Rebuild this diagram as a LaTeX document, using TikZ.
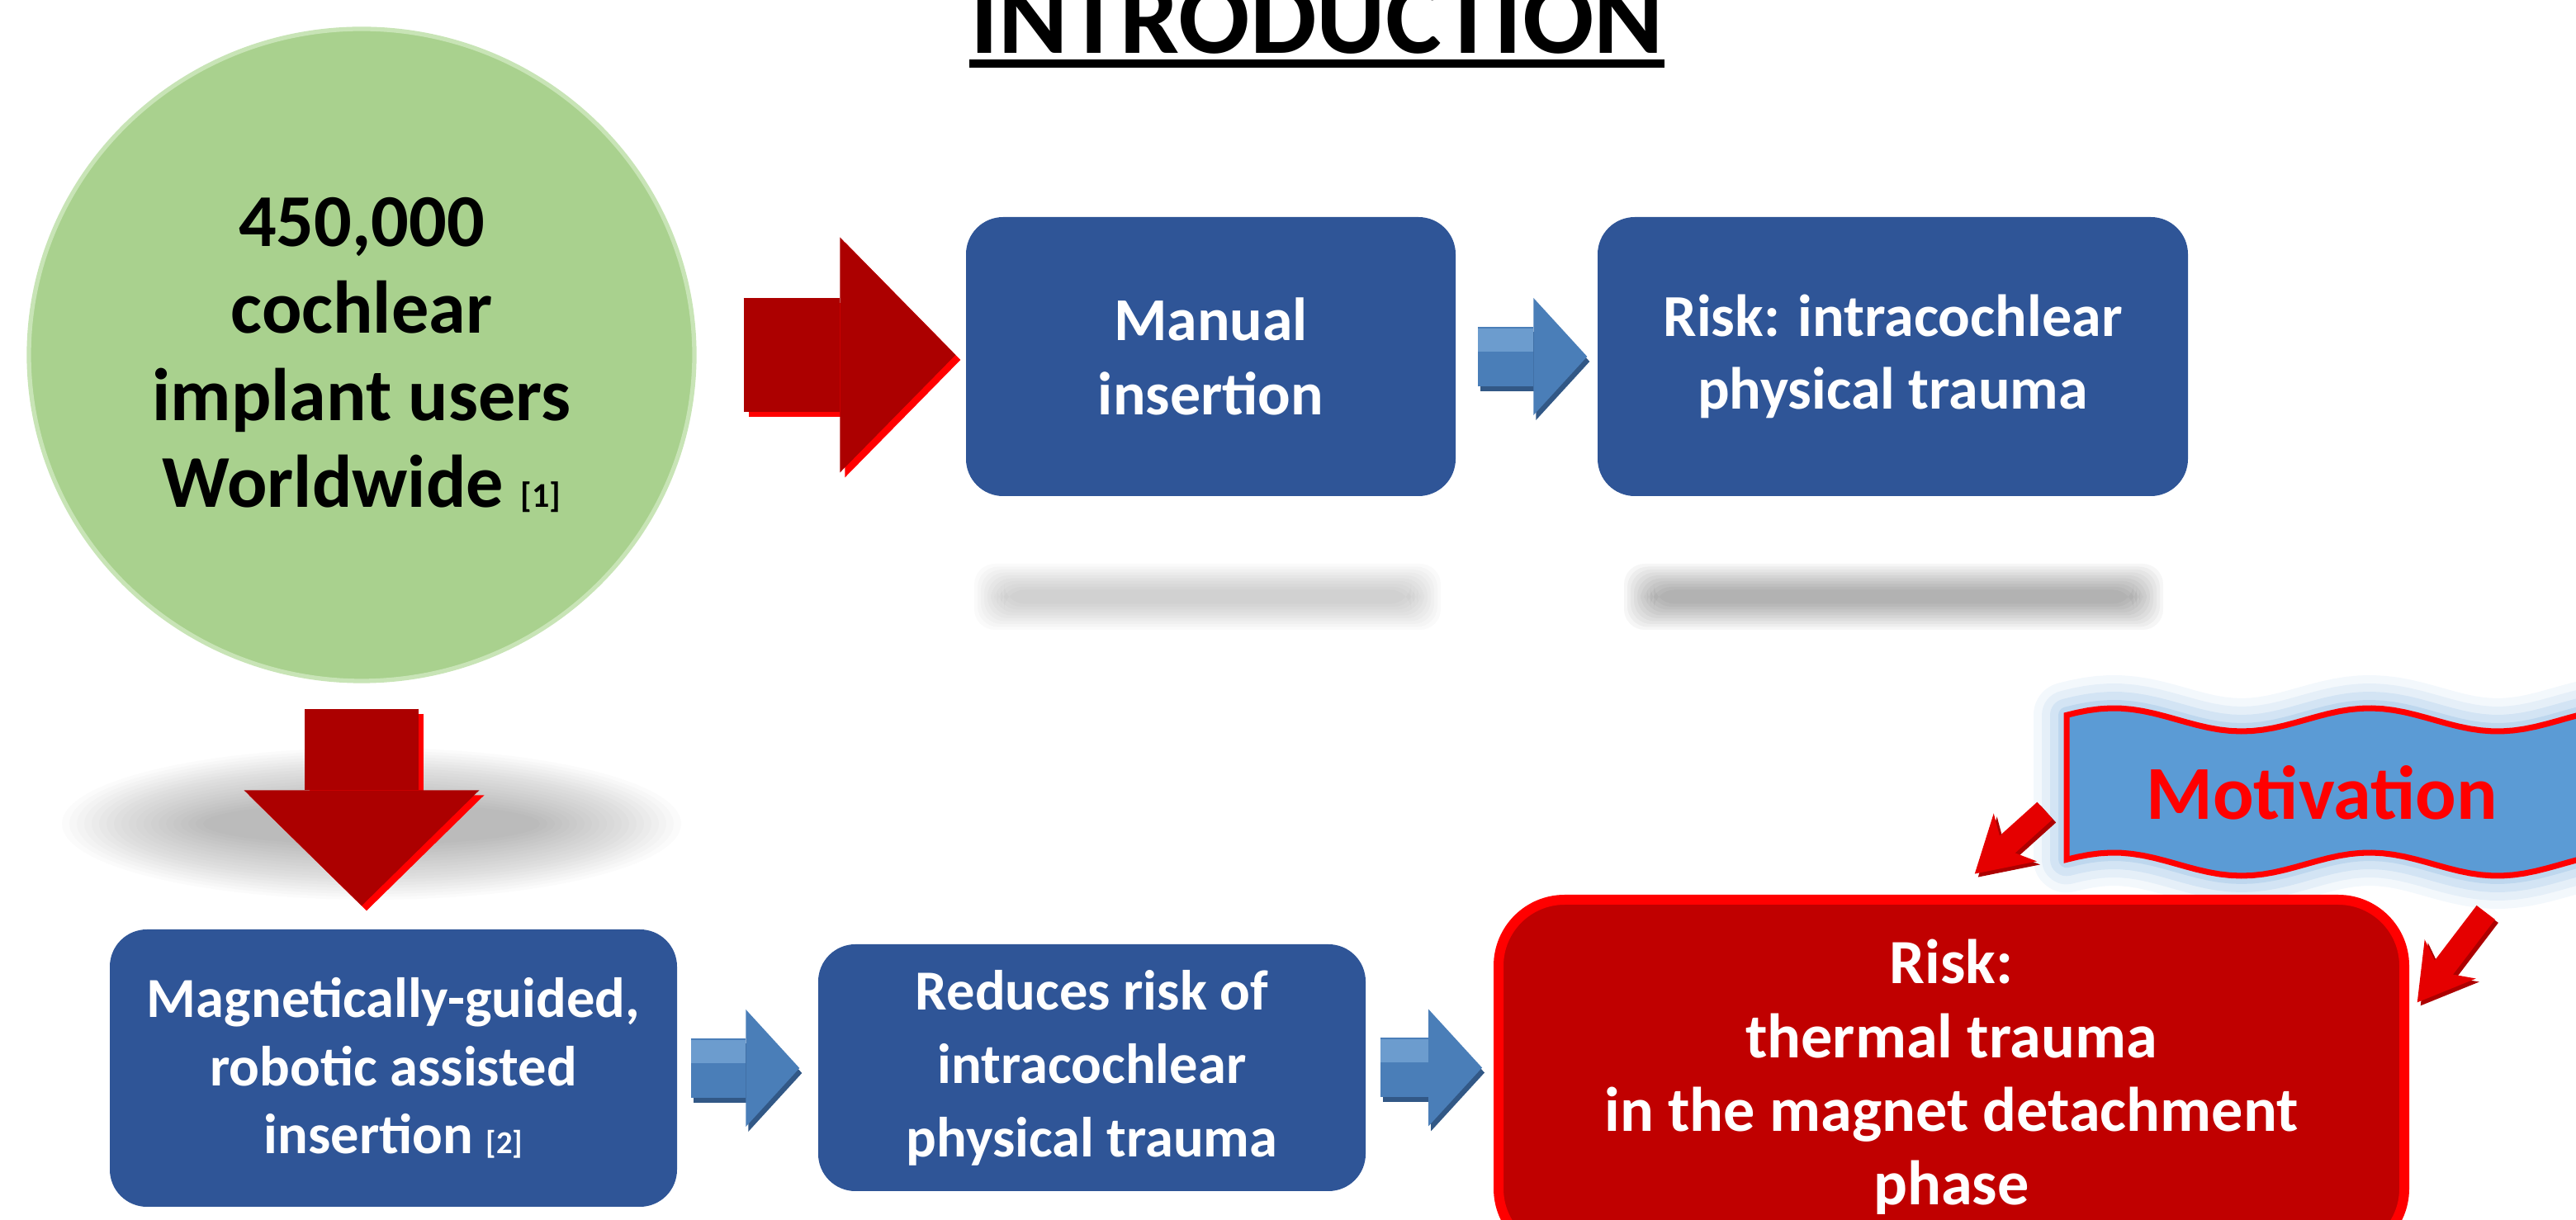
\documentclass[tikz,border=0pt]{standalone}
\usepackage{fontspec}
\setmainfont{Carlito}
\usetikzlibrary{shapes.geometric,arrows.meta}
\definecolor{boxblue}{RGB}{47,85,151}
\definecolor{arrblue}{RGB}{74,126,184}
\definecolor{arrlight}{RGB}{108,156,206}
\definecolor{arrshade}{RGB}{50,88,134}
\definecolor{ellgreen}{RGB}{169,209,142}
\definecolor{ellrim}{RGB}{200,228,182}
\definecolor{darkred}{RGB}{172,0,0}
\definecolor{boxred}{RGB}{192,0,0}
\definecolor{banblue}{RGB}{91,155,213}
\definecolor{glowblue}{RGB}{157,195,230}

\begin{document}
\begin{tikzpicture}
  [bluebox/.style={rectangle,rounded corners=0.45cm,fill=boxblue,text=white,align=center,inner sep=0pt,
     font=\bfseries\fontsize{21}{25.5}\selectfont},
   bigarrow/.style={line width=1.38cm,-{Triangle[length=1.4cm,width=2.85cm,line width=0pt]}},
   smallarrow/.style={line width=0.72cm,-{Triangle[length=0.65cm,width=1.42cm,line width=0pt]}},
   hintarrow/.style={line width=0.28cm,-{Stealth[length=0.66cm,width=0.78cm,inset=0.2cm,line width=0pt]}}]
  \useasboundingbox (0,0) rectangle (31.2,14.78);
  \clip (0,0) rectangle (31.2,14.78);

  % soft shadows
  \foreach \i in {0,...,19}
    \fill[black,opacity=0.016] (4.5,4.8) ellipse ({3.75-0.09*\i} and {0.92-0.035*\i});
  \foreach \xa/\xb/\op in {11.8/17.45/0.02,19.67/26.2/0.035}
    \foreach \i in {0,...,9}
      \fill[black,opacity=\op,rounded corners=0.25cm] (\xa+0.04*\i,7.15+0.035*\i) rectangle (\xb-0.04*\i,7.95-0.035*\i);

  % banner
  \foreach \w/\op in {0.8/0.12,0.6/0.16,0.4/0.25,0.2/0.4}
    \draw[glowblue,line width=\w cm,opacity=\op,line join=round]
      plot[domain=25.03:31.5,samples=50] (\x,{6.06+0.14*sin(360*(\x-24.825)/3.1)})
      -- plot[domain=31.5:25.03,samples=50] (\x,{4.31+0.14*sin(360*(\x-24.825)/3.1)}) -- cycle;
  \filldraw[fill=banblue,draw=red,line width=2pt]
      plot[domain=25.03:31.5,samples=50] (\x,{6.06+0.14*sin(360*(\x-24.825)/3.1)})
      -- plot[domain=31.5:25.03,samples=50] (\x,{4.31+0.14*sin(360*(\x-24.825)/3.1)}) -- cycle;

  \node[font=\bfseries\fontsize{36.4}{36}\selectfont,inner sep=0pt,anchor=base] (title) at (15.95,14.13) {INTRODUCTION};
  \draw[line width=0.1cm] ([yshift=-0.12cm]title.base west) -- ([yshift=-0.12cm]title.base east);

  \node[ellipse,fill=ellgreen,draw=ellrim,line width=1.5pt,minimum width=8.06cm,minimum height=7.9cm,inner sep=0pt,
        align=center,font=\bfseries\fontsize{25.7}{30}\selectfont] (users) at (4.38,10.48)
        {450,000\\cochlear\\implant users\\Worldwide {\fontsize{12}{12}\selectfont[1]}};
  \node[bluebox,minimum width=5.93cm,minimum height=3.38cm] (manual) at (14.665,10.46) {Manual\\insertion};
  \node[bluebox,minimum width=7.15cm,minimum height=3.38cm,font=\bfseries\fontsize{20.5}{25}\selectfont]
        (risk1) at (22.925,10.46) {Risk: intracochlear\\physical trauma};
  \node[bluebox,minimum width=6.87cm,minimum height=3.36cm,font=\bfseries\fontsize{19.5}{23.4}\selectfont]
        (magnet) at (4.765,1.84) {Magnetically-guided,\\robotic assisted\\insertion {\fontsize{11}{11}\selectfont[2]}};
  \node[bluebox,minimum width=6.63cm,minimum height=2.99cm,font=\bfseries\fontsize{19.5}{25.3}\selectfont]
        (reduce) at (13.225,1.845) {Reduces risk of\\intracochlear\\physical trauma};
  \node[rectangle,rounded corners=0.8cm,fill=boxred,draw=red,line width=0.12cm,minimum width=10.97cm,minimum height=4.3cm,
        text=white,align=center,font=\bfseries\fontsize{21.7}{25.4}\selectfont] (thermal) at (23.635,1.73)
        {Risk:\\thermal trauma\\in the magnet detachment\\phase};
  \node[text=red,font=\bfseries\fontsize{26.3}{30}\selectfont,minimum width=6.2cm,minimum height=1.75cm,inner sep=0pt]
        (motiv) at (28.12,5.18) {Motivation};

  \foreach \col/\off in {red/0.06,darkred/0}{
    \draw[bigarrow,\col,shorten <=0.57cm,shorten >=0.12cm,transform canvas={shift={(\off,-\off)}}]
      (users.east) -- (users.east -| manual.west);
    \draw[bigarrow,\col,shorten <=0.31cm,shorten >=0.28cm,transform canvas={shift={(\off,-\off)}}]
      (users.south) -- (users.south |- magnet.north);
  }
  \foreach \col/\off in {darkred/0.04,red!90!black/0}{
    \draw[hintarrow,\col,shorten <=0.33cm,shorten >=0.38cm,transform canvas={shift={(\off,-\off)}}]
      (motiv.west) -- (thermal.north);
    \draw[hintarrow,\col,shorten <=0.72cm,shorten >=0.16cm,transform canvas={shift={(\off,-\off)}}]
      (motiv.-20) -- (thermal.8);
  }

  \foreach \from/\to/\a/\b/\c in {manual/risk1/0.26/0.12/0.77,magnet/reduce/0.16/0.22/0.87,reduce/thermal/0.17/0.14/0.79}{
    \draw[smallarrow,arrshade,shorten <=\a cm,shorten >=\b cm,transform canvas={shift={(0.03,-0.06)}}]
      (\from.east) -- (\from.east -| \to.west);
    \draw[smallarrow,arrblue,shorten <=\a cm,shorten >=\b cm] (\from.east) -- (\from.east -| \to.west);
    \draw[arrlight,line width=0.28cm,shorten <=\a cm,shorten >=\c cm,transform canvas={yshift=0.2cm}]
      (\from.east) -- (\from.east -| \to.west);
  }
\end{tikzpicture}
\end{document}
